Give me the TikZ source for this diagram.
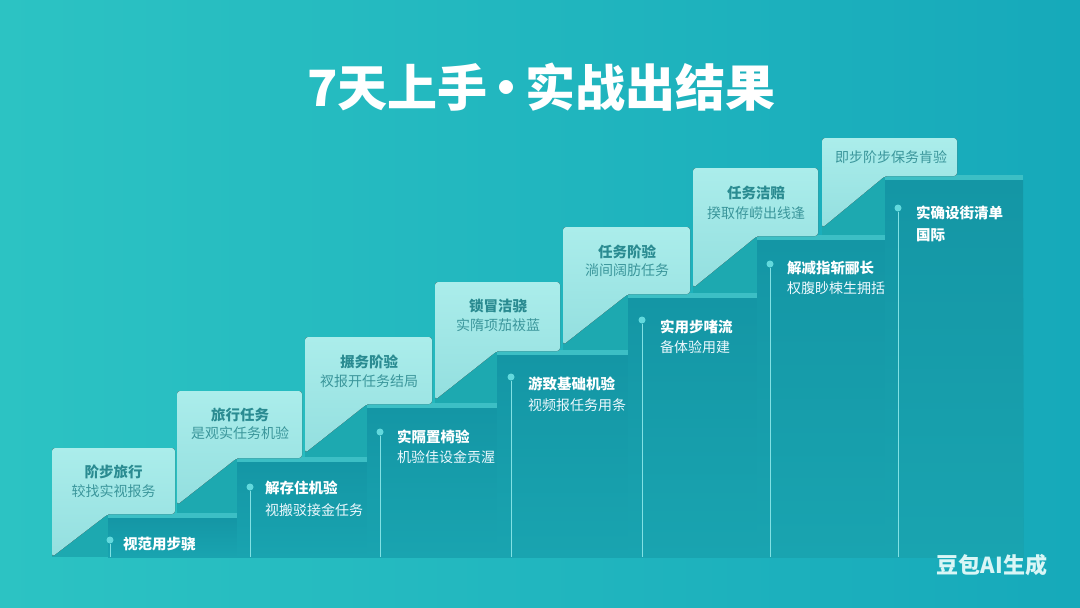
\documentclass[tikz,border=0pt]{standalone}
\usepackage{fontspec}
\setmainfont{Noto Sans CJK SC}
\definecolor{bgL}{HTML}{2CC3C3}
\definecolor{bgR}{HTML}{16A9BA}
\definecolor{riser}{HTML}{1DA9B0}
\definecolor{darkT}{HTML}{1496A5}
\definecolor{darkB}{HTML}{19A4B0}
\definecolor{bevel}{HTML}{3CBFC5}
\definecolor{cardT}{HTML}{ABEDEB}
\definecolor{cardB}{HTML}{93DFDF}
\definecolor{cardtxt}{HTML}{2A8B91}
\definecolor{cardsubtxt}{HTML}{3B969B}
\definecolor{dotc}{HTML}{62D9DD}
\definecolor{wmtxt}{HTML}{D9F6F6}
\begin{document}
\begin{tikzpicture}[x=1pt,y=-1pt,
  maintitle/.style={text=white,font=\fontsize{50}{56}\selectfont\bfseries,inner sep=0},
  cardtitle/.style={text=cardtxt,font=\fontsize{14.5}{16}\selectfont\bfseries,inner sep=0},
  cardsub/.style={text=cardsubtxt,font=\fontsize{14}{16}\selectfont,inner sep=0},
  steptitle/.style={text=white,font=\fontsize{14.5}{16}\selectfont\bfseries,anchor=west,inner sep=0},
  stepsub/.style={text=white!93!cyan,font=\fontsize{14}{16}\selectfont,anchor=west,inner sep=0},
  dotnode/.style={circle,fill=dotc,minimum size=7pt,inner sep=0},
  stemline/.style={draw=dotc!80!white,line width=1pt},
  wm/.style={text=wmtxt,font=\fontsize{22}{24}\selectfont\bfseries,inner sep=0}]
\useasboundingbox (0,0) rectangle (1080,608);
\fill[left color=bgL,right color=bgR] (0,0) rectangle (1080,608);
% risers
\foreach \xl/\xd/\yd in {52/108/518,177/237/462,305/367/408,435/497/355,563/628/298,693/757/240,822/885/180}
  \fill[riser] (\xl,\yd-4) rectangle (\xd,557);
% dark steps with dots and stems
\foreach \i/\xd/\yd/\dx/\dy in {1/108/518/110/540,2/237/462/250/487,3/367/408/380/432,4/497/355/511/377,5/628/298/642/320,6/757/240/770/264,7/885/180/898/208}{
  \fill[top color=darkT,bottom color=darkB] (\xd,\yd) rectangle (1023,557);
  \fill[bevel] (\xd,\yd-5) rectangle (1023,\yd);
  \node[dotnode] (d\i) at (\dx,\dy) {};
  \coordinate (b\i) at (\dx,557);
  \draw[stemline] (d\i) -- (b\i);
}
% light cards
\foreach \xl/\xr/\yt/\xd/\yd/\ybl in {52/175/448/108/518/557,177/302/391/237/462/505,305/432/337/367/408/453,435/560/282/497/355/400,563/690/227/628/298/345,693/818/168/757/240/288,822/957/138/885/180/228}
  \fill[top color=cardT,bottom color=cardB,rounded corners=3pt] (\xl,\ybl) -- (\xl,\yt) -- (\xr,\yt) -- (\xr,\yd-4) -- (\xd,\yd-4) -- cycle;
% title
\node[maintitle] (title) at (541.5,87) {7天上手\hspace{-6pt}·\hspace{-6pt}实战出结果};
% card texts
\node[cardtitle] (c1t) at (113.5,472) {阶步旅行};
\node[cardsub] (c1s) at (113.5,491) {较找实视报务};
\node[cardtitle] (c2t) at (240,415) {旅行任务};
\node[cardsub] (c2s) at (240,433) {是观实任务机验};
\node[cardtitle] (c3t) at (369,362) {搌务阶验};
\node[cardsub] (c3s) at (369,381) {衩报开任务结局};
\node[cardtitle] (c4t) at (498,306) {锁冒洁骁};
\node[cardsub] (c4s) at (498,325) {实隋项茄祓蓝};
\node[cardtitle] (c5t) at (627,252) {任务阶验};
\node[cardsub] (c5s) at (627,270) {淌间阔肪任务};
\node[cardtitle] (c6t) at (756,193) {任务洁赔};
\node[cardsub] (c6s) at (756,213) {揆取侟崂出线逢};
\node[cardsub] (c7t) at (891,157) {即步阶步保务肯验};
% step texts
\node[steptitle] (s1t) at (123,544) {视范用步骁};
\node[steptitle] (s2t) at (265,488) {解存住机验};
\node[stepsub] (s2s) at (265,510) {视搬驳接金任务};
\node[steptitle] (s3t) at (397,437) {实隔置椅验};
\node[stepsub] (s3s) at (397,457) {机验佳设金贡渥};
\node[steptitle] (s4t) at (528,384) {游致基础机验};
\node[stepsub] (s4s) at (528,405) {视频报任务用条};
\node[steptitle] (s5t) at (660,327) {实用步啫流};
\node[stepsub] (s5s) at (660,347) {备体验用建};
\node[steptitle] (s6t) at (787,268) {解减指斩郦长};
\node[stepsub] (s6s) at (787,288) {权腹眇梀生拥括};
\node[steptitle] (s7t) at (916,213) {实确设街清单};
\node[steptitle] (s7s) at (916,235) {国际};
% watermark
\node[wm] (wmk) at (992,565) {豆包AI生成};
\end{tikzpicture}
\end{document}
